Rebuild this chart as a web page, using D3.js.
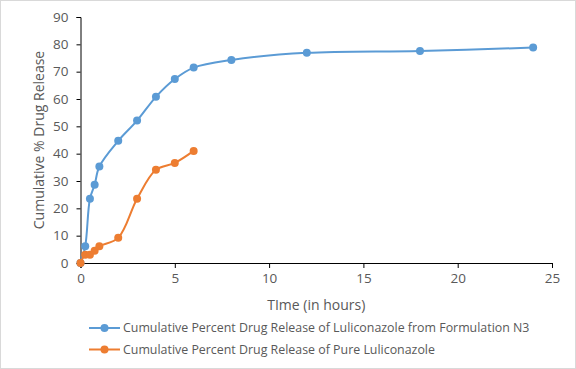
<!DOCTYPE html>
<html>
<head>
<meta charset="utf-8">
<script src="https://cdn.jsdelivr.net/npm/d3@7"></script>
<style>
  body { margin: 0; background: #fff; }
  text { font-family: "Open Sans", "Liberation Sans", sans-serif; fill: #595959; }
</style>
</head>
<body>
<script>
var hours = [0, 0.25, 0.5, 0.75, 1, 2, 3, 4, 5, 6, 8, 12, 18, 24];
var formulationN3 = [0, 6.1, 23.5, 28.6, 35.3, 44.7, 52.1, 60.8, 67.3, 71.5, 74.3, 76.9, 77.6, 78.8];
var pureHours = [0, 0.25, 0.5, 0.75, 1, 2, 3, 4, 5, 6];
var pureDrug = [0, 3.0, 3.0, 4.5, 6.1, 9.2, 23.5, 34.1, 36.6, 41.0];
var xTicks = [0, 5, 10, 15, 20, 25];
var yTicks = [0, 10, 20, 30, 40, 50, 60, 70, 80, 90];
var seriesNames = [
  "Cumulative Percent Drug Release of Luliconazole from Formulation N3",
  "Cumulative Percent Drug Release of Pure Luliconazole"
];
var colors = ["#5B9BD5", "#ED7D31"];

var W = 576, H = 369;
var margin = {top: 17, right: 24, bottom: 106, left: 80.5};

var svg = d3.select("body").append("svg")
  .attr("width", W)
  .attr("height", H);

svg.append("rect")
  .attr("x", 0.5).attr("y", 0.5)
  .attr("width", W - 1).attr("height", H - 1)
  .attr("fill", "#fff").attr("stroke", "#d9d9d9");

var x = d3.scaleLinear().domain([0, 25]).range([margin.left, W - margin.right]);
var y = d3.scaleLinear().domain([0, 90]).range([H - margin.bottom, margin.top]);

var xAxis = svg.append("g")
  .attr("transform", "translate(0," + y(0) + ")")
  .call(d3.axisBottom(x).tickValues(xTicks).tickSize(5).tickPadding(5));
var yAxis = svg.append("g")
  .attr("transform", "translate(" + x(0) + ",0)")
  .call(d3.axisLeft(y).tickValues(yTicks).tickSize(4).tickPadding(8));

[xAxis, yAxis].forEach(function (a) {
  a.select(".domain").attr("stroke", "#000");
  a.selectAll(".tick line").attr("stroke", "#000");
  a.selectAll("text").style("font-size", "13.5px").attr("fill", "#595959");
});

svg.append("text")
  .attr("x", (x(0) + x(25)) / 2)
  .attr("y", 310)
  .attr("text-anchor", "middle")
  .style("font-size", "14px")
  .text("TIme (in hours)");

svg.append("text")
  .attr("transform", "translate(44," + (y(0) + y(90)) / 2 + ") rotate(-90)")
  .attr("text-anchor", "middle")
  .style("font-size", "14px")
  .text("Cumulative % Drug Release");

var line = d3.line()
  .x(function (d) { return x(d[0]); })
  .y(function (d) { return y(d[1]); })
  .curve(d3.curveCatmullRom.alpha(0.5));

var series = [
  d3.zip(hours, formulationN3),
  d3.zip(pureHours, pureDrug)
];

series.forEach(function (pts, i) {
  svg.append("path")
    .datum(pts)
    .attr("fill", "none")
    .attr("stroke", colors[i])
    .attr("stroke-width", 2)
    .attr("d", line);
  svg.selectAll(".dot" + i)
    .data(pts)
    .enter().append("circle")
      .attr("class", "dot" + i)
      .attr("cx", function (d) { return x(d[0]); })
      .attr("cy", function (d) { return y(d[1]); })
      .attr("r", 4)
      .attr("fill", colors[i]);
});

// legend
seriesNames.forEach(function (name, i) {
  var ly = 328 + i * 21.5;
  svg.append("line")
    .attr("x1", 89).attr("x2", 120)
    .attr("y1", ly).attr("y2", ly)
    .attr("stroke", colors[i]).attr("stroke-width", 2);
  svg.append("circle")
    .attr("cx", 104.5).attr("cy", ly).attr("r", 4)
    .attr("fill", colors[i]);
  svg.append("text")
    .attr("x", 123).attr("y", ly)
    .attr("dy", "0.35em")
    .style("font-size", "12.4px")
    .text(name);
});
</script>
</body>
</html>
